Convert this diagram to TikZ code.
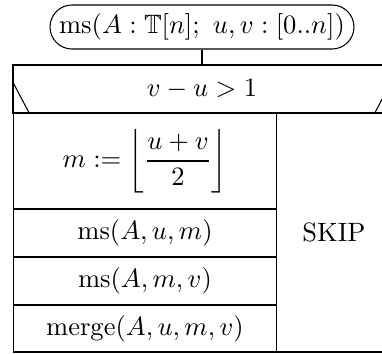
\documentclass[tikz,border=0pt]{standalone}
\usepackage{amsmath,amssymb}
\begin{document}
\begin{tikzpicture}[x=0.377pt,y=-0.377pt,
  box/.style={draw, line width=0.4pt, inner sep=0pt, anchor=center},
  oval/.style={draw, line width=0.4pt, inner sep=0pt, minimum width=114.6pt, minimum height=16.6pt, rounded corners=8.3pt},
  conn/.style={line width=0.4pt}]
\useasboundingbox (0,0) rectangle (382,354);
\clip (0,0) rectangle (382,354);
\node[oval] (head) at (202,27) {$\mathrm{ms}(A:\mathbb{T}[n];\ u,v:[0..n])$};
\node[box, minimum width=142.5pt, minimum height=18.1pt] (cond) at (202,89) {$v-u>1$};
\node[box, minimum width=99.5pt, minimum height=36.2pt] (assign) at (145,161) {$m:=\left\lfloor\dfrac{u+v}{2}\right\rfloor$};
\node[box, minimum width=99.5pt, minimum height=18.1pt] (call1) at (145,233) {$\mathrm{ms}(A,u,m)$};
\node[box, minimum width=99.5pt, minimum height=18.1pt] (call2) at (145,281) {$\mathrm{ms}(A,m,v)$};
\node[box, minimum width=99.5pt, minimum height=17.7pt] (merge) at (145,328.5) {$\mathrm{merge}(A,u,m,v)$};
\node[box, minimum width=43pt, minimum height=90.1pt] (skip) at (334,232.5) {SKIP};
\draw[conn] (head.south) -- (cond.north);
\draw[conn] ([yshift=-6.4pt]cond.north west) -- ([xshift=6.4pt]cond.south west);
\draw[conn] ([yshift=-6.4pt]cond.north east) -- ([xshift=-6.4pt]cond.south east);
\end{tikzpicture}
\end{document}
